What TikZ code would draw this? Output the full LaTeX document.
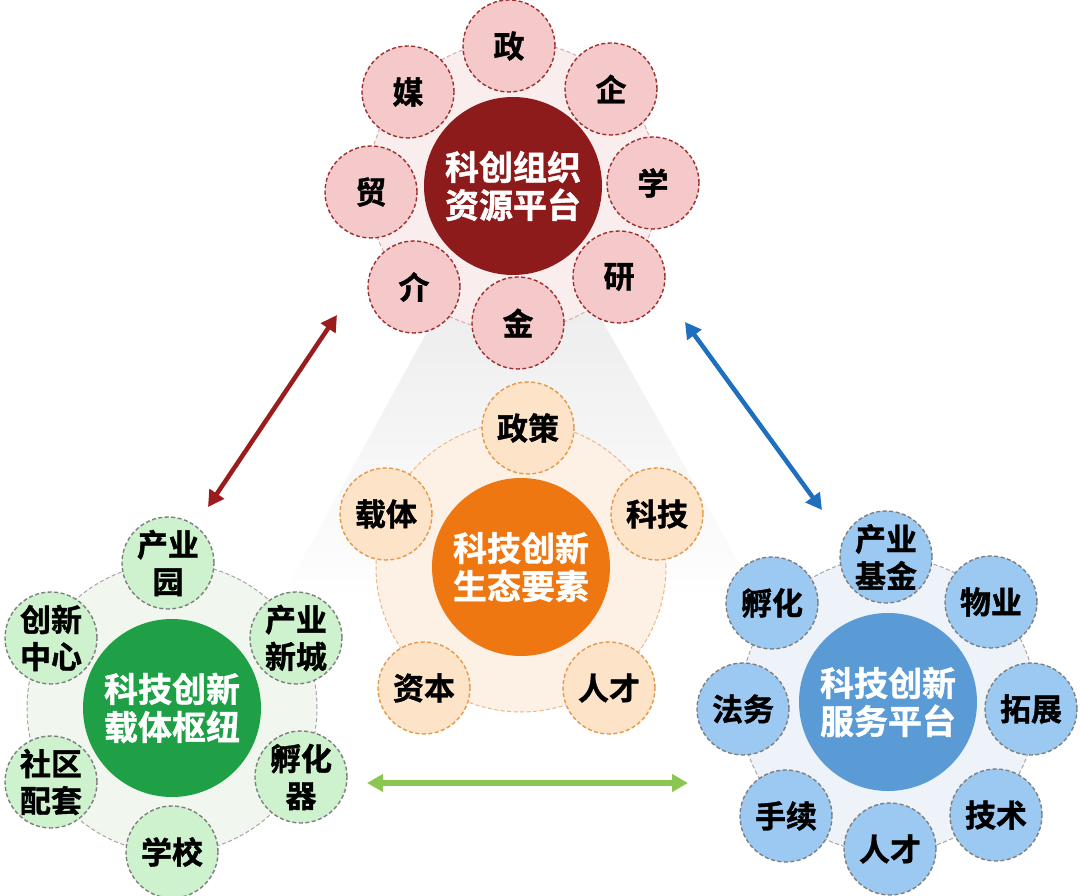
\documentclass[tikz,border=0pt]{standalone}
\usepackage{fontspec}
\setmainfont{Noto Sans CJK SC}[BoldFont={Noto Sans CJK SC Bold},BoldFeatures={FakeBold=1.2}]
\usetikzlibrary{arrows.meta,shadings}
\definecolor{rdark}{HTML}{8E1B1B}
\definecolor{rsat}{HTML}{F5C9C9}
\definecolor{rline}{HTML}{9E3030}
\definecolor{rbg}{HTML}{FAEDED}
\definecolor{odark}{HTML}{EE7711}
\definecolor{osat}{HTML}{FDE3C8}
\definecolor{oline}{HTML}{E39A4A}
\definecolor{obg}{HTML}{FDF1E6}
\definecolor{gdark}{HTML}{1FA047}
\definecolor{gsat}{HTML}{CDF2CD}
\definecolor{gbg}{HTML}{F1F7EE}
\definecolor{bdark}{HTML}{5B9BD5}
\definecolor{bsat}{HTML}{9CC9F2}
\definecolor{bbg}{HTML}{EEF3F9}
\definecolor{grline}{HTML}{7F7F7F}
\definecolor{arred}{HTML}{9B1C1C}
\definecolor{arblue}{HTML}{1F6FBF}
\definecolor{argreen}{HTML}{8CC652}
\tikzset{
  satbase/.style={circle, minimum size=92pt, inner sep=0pt, line width=1.4pt,
    dash pattern=on 4pt off 2.5pt, align=center, font=\bfseries\fontsize{31}{37}\selectfont},
  rsatn/.style={satbase, fill=rsat, draw=rline},
  osatn/.style={satbase, fill=osat, draw=oline},
  gsatn/.style={satbase, fill=gsat, draw=grline},
  bsatn/.style={satbase, fill=bsat, draw=grline},
  hub/.style={circle, minimum size=178pt, inner sep=0pt, text=white, align=center,
    font=\bfseries\fontsize{34}{38}\selectfont},
  ring/.style={circle, inner sep=0pt, line width=1pt, dash pattern=on 4pt off 2.5pt},
  twoway/.style={line width=4.5pt, {Triangle[length=16pt,width=17pt]}-{Triangle[length=16pt,width=17pt]}},
}
\begin{document}
\begin{tikzpicture}[x=1pt,y=-1pt]
\useasboundingbox (0,0) rectangle (1080,896);
\fill[white] (0,0) rectangle (1080,896);
% spotlight
\shade[top color=black!9, bottom color=white, opacity=0.8]
  (450,290) -- (585,290) -- (760,600) -- (280,600) -- cycle;
% background rings
\node[ring, minimum size=290pt, fill=rbg, draw=rline!40] (Tr) at (513,186) {};
\node[ring, minimum size=290pt, fill=obg, draw=oline!70] (Cr) at (521,567) {};
\node[ring, minimum size=290pt, fill=gbg, draw=grline!70] (Gr) at (172,708) {};
\node[ring, minimum size=296pt, fill=bbg, draw=grline!70] (Br) at (888,705) {};
% top cluster
\node[hub, fill=rdark] (T) at (513,186) {科创组织\\资源平台};
\foreach \x/\y/\t [count=\i] in {509/46/政, 611/89/企, 653/183/学, 619/277/研, 518/323/金, 414/287/介, 371/192/贸, 408/92/媒}
  \node[rsatn] (t\i) at (\x,\y) {\t};
% center cluster
\node[hub, fill=odark] (C) at (521,567) {科技创新\\生态要素};
\foreach \x/\y/\t [count=\i] in {528/428/政策, 657/514/科技, 609/688/人才, 424/688/资本, 386/514/载体}
  \node[osatn] (c\i) at (\x,\y) {\t};
% green cluster
\node[hub, fill=gdark] (G) at (172,708) {科技创新\\载体枢纽};
\foreach \x/\y/\t [count=\i] in {168/563/产业\\园, 296/638/产业\\新城, 301/777/孵化\\器, 172/852/学校, 51/782/社区\\配套, 51/638/创新\\中心}
  \node[gsatn] (g\i) at (\x,\y) {\t};
% blue cluster
\node[hub, fill=bdark] (B) at (888,702) {科技创新\\服务平台};
\foreach \x/\y/\t [count=\i] in {886/557/产业\\基金, 991/602/物业, 1031/709/拓展, 996/815/技术, 890/849/人才, 786/816/手续, 743/709/法务, 772/603/孵化}
  \node[bsatn] (b\i) at (\x,\y) {\t};
% arrows
\coordinate (ra) at (337,315);
\coordinate (rb) at (208,507);
\coordinate (ba) at (685,322);
\coordinate (bb) at (822,510);
\coordinate (ga) at (367,783);
\coordinate (gb) at (688,783);
\draw[twoway, arred] (rb) -- (ra);
\draw[twoway, arblue] (ba) -- (bb);
\draw[twoway, argreen, line width=5.5pt] (ga) -- (gb);
\end{tikzpicture}
\end{document}
